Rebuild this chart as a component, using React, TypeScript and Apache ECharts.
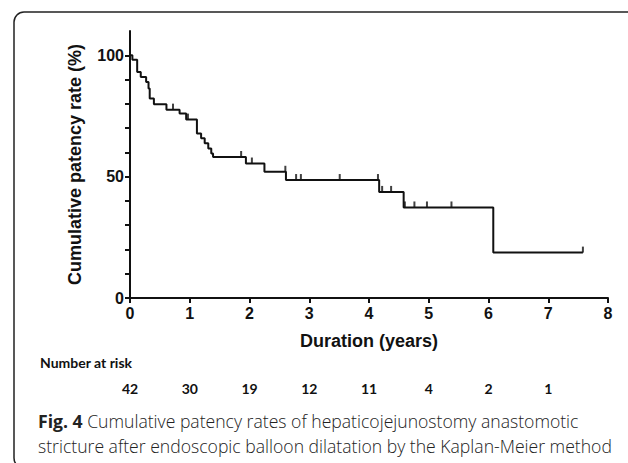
import React, { useEffect, useRef } from "react";
import * as echarts from "echarts";

// Kaplan-Meier steps: time (years) and survival (%) after each event
const eventTimes = [0, 0.04, 0.12, 0.18, 0.27, 0.31, 0.33, 0.4, 0.61, 0.83, 0.94, 1.12, 1.19, 1.25, 1.31, 1.36, 1.39, 1.94, 2.25, 2.61, 4.17, 4.58, 6.08, 7.58];
const survival = [100, 98.2, 93.1, 91.1, 89.0, 86.3, 82.2, 79.8, 77.6, 76.0, 73.5, 67.8, 65.8, 63.8, 61.6, 59.5, 58.1, 55.4, 52.0, 48.6, 43.7, 37.3, 18.7, 18.7];

// Censored observations
const censorTimes = [0.72, 0.97, 1.86, 2.04, 2.6, 2.78, 2.86, 3.51, 4.15, 4.22, 4.37, 4.6, 4.76, 4.97, 5.38, 7.58];
const censorLevels = [77.6, 73.5, 58.1, 55.4, 52.0, 48.6, 48.6, 48.6, 48.6, 43.7, 43.7, 37.3, 37.3, 37.3, 37.3, 18.7];

// Number at risk at years 0..7
const riskYears = [0, 1, 2, 3, 4, 5, 6, 7];
const atRisk = [42, 30, 19, 12, 11, 4, 2, 1];

const yTickValues = [0, 10, 20, 30, 40, 50, 60, 70, 80, 90, 100];
const yLabelValues = [0, 50, 100];

const AXIS_FONT = "'Liberation Sans', Arial, sans-serif";
const RISK_FONT = "Lato, 'Open Sans', sans-serif";

export default function App() {
  const ref = useRef<HTMLDivElement>(null);
  useEffect(() => {
    if (!ref.current) return;
    const chart = echarts.init(ref.current, null, { renderer: "svg" });
    const riskMap: Record<number, number> = {};
    riskYears.forEach((y, i) => (riskMap[y] = atRisk[i]));
    chart.setOption({
      animation: false,
      backgroundColor: "#ffffff",
      grid: [
        { left: 130, right: 20, top: 31, bottom: 165, containLabel: false },
        { left: 130, right: 20, top: 378, height: 1, containLabel: false },
      ],
      xAxis: [
        {
          type: "value",
          gridIndex: 0,
          min: 0,
          max: 8,
          interval: 1,
          name: "Duration (years)",
          nameLocation: "middle",
          nameGap: 34,
          nameTextStyle: { fontFamily: AXIS_FONT, fontWeight: "bold", fontSize: 18, color: "#111" },
          axisLine: { onZero: false, lineStyle: { color: "#111", width: 2 } },
          axisTick: { show: true, length: 5, lineStyle: { color: "#111", width: 2 } },
          axisLabel: { fontFamily: AXIS_FONT, fontWeight: "bold", fontSize: 16, color: "#111", margin: 7 },
          splitLine: { show: false },
        },
        {
          type: "value",
          gridIndex: 1,
          min: 0,
          max: 8,
          interval: 1,
          axisLine: { show: false },
          axisTick: { show: false },
          splitLine: { show: false },
          axisLabel: {
            fontFamily: RISK_FONT,
            fontWeight: "bold",
            fontSize: 14,
            color: "#111",
            margin: 2,
            formatter: (v: number) => (riskMap[v] !== undefined ? String(riskMap[v]) : ""),
          },
        },
      ],
      yAxis: [
        {
          type: "value",
          gridIndex: 0,
          min: 0,
          max: 110,
          interval: 10,
          name: "Cumulative patency rate (%)",
          nameLocation: "middle",
          nameGap: 46,
          nameTextStyle: { fontFamily: AXIS_FONT, fontWeight: "bold", fontSize: 18, color: "#111" },
          axisLine: { show: true, onZero: false, lineStyle: { color: "#111", width: 2 } },
          axisTick: { show: true, length: 5, customValues: yTickValues, lineStyle: { color: "#111", width: 2 } },
          axisLabel: {
            fontFamily: AXIS_FONT,
            fontWeight: "bold",
            fontSize: 16,
            color: "#111",
            margin: 6,
            customValues: yLabelValues,
            formatter: (v: number) => (yLabelValues.includes(v) ? String(v) : ""),
          },
          splitLine: { show: false },
        },
        {
          type: "value",
          gridIndex: 1,
          show: false,
        },
      ],
      graphic: [
        {
          type: "rect",
          shape: { x: 14, y: 12, width: 700, height: 456, r: 10 },
          style: { fill: "none", stroke: "#222", lineWidth: 1.5 },
          silent: true,
          z: -1,
        },
        {
          type: "text",
          left: 40,
          top: 355,
          style: { text: "Number at risk", fontFamily: RISK_FONT, fontWeight: "bold", fontSize: 14, fill: "#111" },
        },
        {
          type: "text",
          left: 38,
          top: 408,
          style: {
            text: "{b|Fig. 4} Cumulative patency rates of hepaticojejunostomy anastomotic\nstricture after endoscopic balloon dilatation by the Kaplan-Meier method",
            fontFamily: "'Open Sans', sans-serif",
            fontSize: 17.6,
            fontWeight: 300,
            lineHeight: 25,
            fill: "#222",
            rich: {
              b: { fontFamily: "'Open Sans', sans-serif", fontSize: 17.6, fontWeight: "bold", fill: "#222", lineHeight: 25 },
            },
          },
        },
      ],
      series: [
        {
          type: "line",
          xAxisIndex: 0,
          yAxisIndex: 0,
          step: "end",
          showSymbol: false,
          lineStyle: { color: "#111", width: 2 },
          data: eventTimes.map((t, i) => [t, survival[i]]),
          z: 3,
        },
        {
          type: "scatter",
          xAxisIndex: 0,
          yAxisIndex: 0,
          symbol: "rect",
          symbolSize: [2, 6],
          symbolOffset: [0, -3],
          itemStyle: { color: "#111" },
          data: censorTimes.map((t, i) => [t, censorLevels[i]]),
          z: 4,
        },
      ],
    });
    return () => chart.dispose();
  }, []);
  return <div ref={ref} style={{ position: "fixed", left: 0, top: 0, width: 628, height: 463 }} />;
}
